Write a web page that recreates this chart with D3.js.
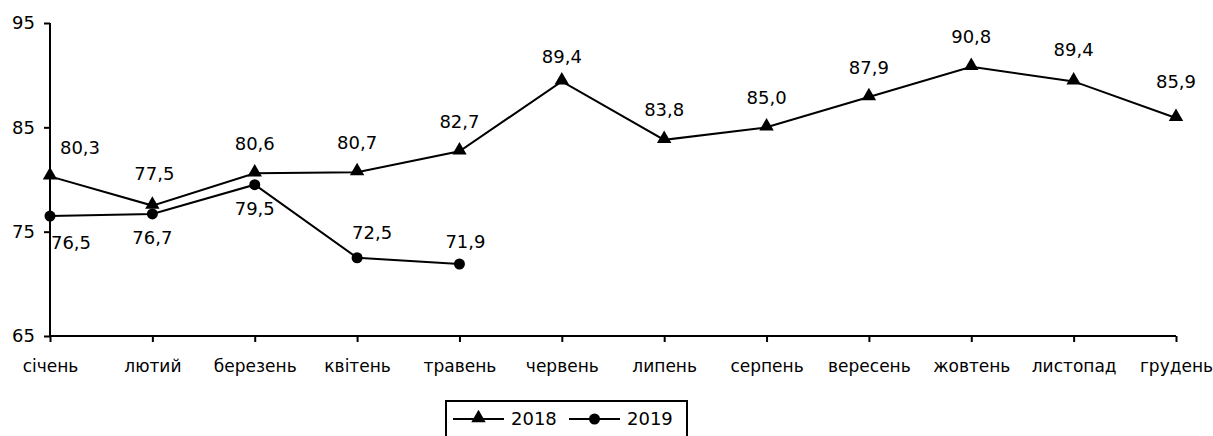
<!DOCTYPE html>
<html>
<head>
<meta charset="utf-8">
<script src="https://cdn.jsdelivr.net/npm/d3@7"></script>
<style>
  body { margin: 0; background: #fff; }
  svg text { font-family: "DejaVu Sans", sans-serif; font-size: 18px; fill: #000; }
</style>
</head>
<body>
<div id="chart"></div>
<script>
// data
var months = ["січень", "лютий", "березень", "квітень", "травень", "червень",
              "липень", "серпень", "вересень", "жовтень", "листопад", "грудень"];
var values2018 = [80.3, 77.5, 80.6, 80.7, 82.7, 89.4, 83.8, 85.0, 87.9, 90.8, 89.4, 85.9];
var values2019 = [76.5, 76.7, 79.5, 72.5, 71.9];
var yTicks = [65, 75, 85, 95];

// label placement (dx, dy from the point) - default 2018 above, 2019 below
var offs2018 = {0: [30, -29], 1: [2, -32], 5: [0, -25], 10: [0, -32], 11: [0, -36]};
var offs2019 = {0: [21, 27], 3: [15, -25], 4: [6, -22]};

var W = 1213, H = 436;
var svg = d3.select("#chart").append("svg")
    .attr("width", W)
    .attr("height", H);

var x = d3.scalePoint()
    .domain(months)
    .range([50, 1176]);

var y = d3.scaleLinear()
    .domain([65, 95])
    .range([336, 23]);

var fmt = function(v) { return v.toFixed(1).replace(".", ","); };

// y axis
var yAxis = svg.append("g")
    .attr("transform", "translate(50,0)")
    .call(d3.axisLeft(y).tickValues(yTicks).tickSize(6).tickPadding(9).tickFormat(d3.format("d")));
yAxis.select(".domain").attr("d", "M0," + y(65) + "V" + y(95));
yAxis.selectAll(".tick text").style("font-size", "18px");

// x axis
var xAxis = svg.append("g")
    .attr("transform", "translate(0,336)")
    .call(d3.axisBottom(x).tickSize(6).tickPadding(18));
xAxis.select(".domain").attr("d", "M" + x(months[0]) + ",0H" + x(months[months.length - 1]));
xAxis.selectAll(".tick text").style("font-size", "17px");

svg.selectAll(".domain, .tick line").attr("stroke", "#000").attr("stroke-width", 2);
svg.selectAll(".tick text").style("font-family", "DejaVu Sans, sans-serif");

var line = d3.line()
    .x(function(d, i) { return x(months[i]); })
    .y(function(d) { return y(d); });

var tri = d3.symbol().type(d3.symbolTriangle).size(90);

function series(vals, marker, offs, defDy) {
  var g = svg.append("g");
  g.append("path")
    .datum(vals)
    .attr("fill", "none")
    .attr("stroke", "#000")
    .attr("stroke-width", 2)
    .attr("d", line);

  if (marker == "tri") {
    g.selectAll("path.m").data(vals).enter().append("path")
      .attr("class", "m")
      .attr("d", tri)
      .attr("transform", function(d, i) { return "translate(" + x(months[i]) + "," + (y(d) - 1) + ")"; })
      .attr("fill", "#000");
  } else {
    g.selectAll("circle").data(vals).enter().append("circle")
      .attr("cx", function(d, i) { return x(months[i]); })
      .attr("cy", function(d) { return y(d); })
      .attr("r", 5.5)
      .attr("fill", "#000");
  }

  g.selectAll("text").data(vals).enter().append("text")
    .attr("x", function(d, i) { return x(months[i]) + (offs[i] ? offs[i][0] : 0); })
    .attr("y", function(d, i) { return y(d) + (offs[i] ? offs[i][1] : defDy); })
    .attr("dy", "0.36em")
    .attr("text-anchor", "middle")
    .text(fmt);
}

series(values2018, "tri", offs2018, -30);
series(values2019, "dot", offs2019, 24);

// legend
var lg = svg.append("g");
lg.append("rect")
  .attr("x", 446).attr("y", 401)
  .attr("width", 241).attr("height", 45)
  .attr("fill", "none").attr("stroke", "#000").attr("stroke-width", 2);

var legendItems = [{name: "2018", m: "tri", x0: 453}, {name: "2019", m: "dot", x0: 569}];
legendItems.forEach(function(it) {
  lg.append("line")
    .attr("x1", it.x0).attr("x2", it.x0 + 51)
    .attr("y1", 419).attr("y2", 419)
    .attr("stroke", "#000").attr("stroke-width", 2);
  if (it.m == "tri") {
    lg.append("path").attr("d", tri).attr("transform", "translate(" + (it.x0 + 25.5) + ",418)").attr("fill", "#000");
  } else {
    lg.append("circle").attr("cx", it.x0 + 25.5).attr("cy", 419).attr("r", 5.5).attr("fill", "#000");
  }
  lg.append("text")
    .attr("x", it.x0 + 58).attr("y", 419)
    .attr("dy", "0.36em")
    .text(it.name);
});
</script>
</body>
</html>
